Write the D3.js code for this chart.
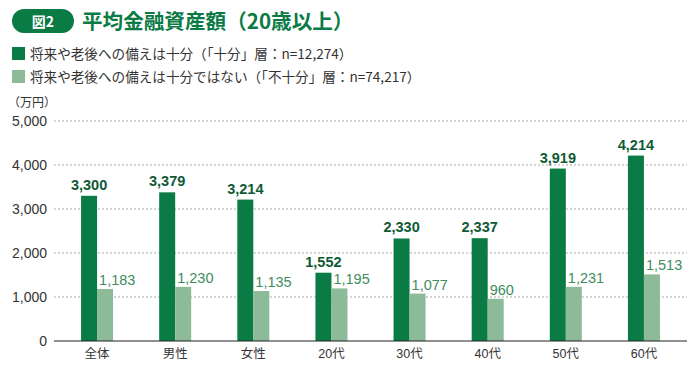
<!DOCTYPE html>
<html><head><meta charset="utf-8">
<script src="https://cdn.jsdelivr.net/npm/d3@7"></script>
<style>
html,body{margin:0;padding:0;background:#fff;}
text{font-family:"Liberation Sans","Noto Sans CJK JP",sans-serif;}
</style></head>
<body><svg id="c" width="700" height="370"></svg>
<script>
const categories = ["全体","男性","女性","20代","30代","40代","50代","60代"];
const sufficient = [3300,3379,3214,1552,2330,2337,3919,4214];
const insufficient = [1183,1230,1135,1195,1077,960,1231,1513];
const yTicks = [0,1000,2000,3000,4000,5000];
const seriesNames = ["将来や老後への備えは十分（「十分」層：n=12,274）","将来や老後への備えは十分ではない（「不十分」層：n=74,217）"];
const titleText = "平均金融資産額（20歳以上）";
const badgeText = "図2";
const unitText = "（万円）";

const dark = "#0b7b45", light = "#8dba98";
const svg = d3.select("#c");
const jp = '"Noto Sans CJK JP",sans-serif';

// header
svg.append("rect").attr("x",12).attr("y",9).attr("width",62).attr("height",24).attr("rx",12).attr("fill",dark);
svg.append("text").attr("x",43).attr("y",27).attr("text-anchor","middle").attr("fill","#fff")
  .attr("font-size",14).attr("font-weight","bold").style("font-family",jp).text(badgeText);
svg.append("text").attr("x",82).attr("y",29).attr("fill",dark).attr("font-size",20.6).attr("font-weight","bold")
  .style("font-family",jp).text(titleText);

// legend
const lg = svg.append("g");
[dark,light].forEach((c,i)=>{
  lg.append("rect").attr("x",12).attr("y",47+i*23).attr("width",13).attr("height",13).attr("fill",c);
  lg.append("text").attr("x",30).attr("y",59+i*23).attr("font-size",13.6).attr("fill","#333")
    .style("font-family",jp).text(seriesNames[i]);
});
svg.append("text").attr("x",8).attr("y",107).attr("font-size",12).attr("fill","#333").style("font-family",jp).text(unitText);

// scales
const x = d3.scaleBand().domain(categories).range([58,683]).padding(0);
const y = d3.scaleLinear().domain([0,5000]).range([341,121]);
const barW = 16;
const left = 54, right = 687;

// grid
svg.append("g").selectAll("line").data(yTicks.filter(d=>d>0)).join("line")
  .attr("x1",left).attr("x2",right).attr("y1",d=>y(d)).attr("y2",d=>y(d))
  .attr("stroke","#aaa").attr("stroke-width",1).attr("stroke-dasharray","2,2");

// y axis labels
const yAxis = d3.axisLeft(y).tickValues(yTicks).tickFormat(d3.format(",")).tickSize(0).tickPadding(0);
const ya = svg.append("g").attr("transform",`translate(47,0)`).call(yAxis);
ya.select(".domain").remove();
ya.selectAll("text").attr("font-size",14).attr("fill","#333").style("font-family",'"Liberation Sans",sans-serif');

// bars
const cx = d => x(d) + x.bandwidth()/2;
svg.append("g").selectAll("rect").data(categories).join("rect")
  .attr("x",(d)=>cx(d)-barW).attr("width",barW)
  .attr("y",(d,i)=>y(sufficient[i])).attr("height",(d,i)=>y(0)-y(sufficient[i])).attr("fill",dark);
svg.append("g").selectAll("rect").data(categories).join("rect")
  .attr("x",(d)=>cx(d)).attr("width",barW)
  .attr("y",(d,i)=>y(insufficient[i])).attr("height",(d,i)=>y(0)-y(insufficient[i])).attr("fill",light);

// value labels
const fmt = d3.format(",");
svg.append("g").selectAll("text").data(categories).join("text")
  .attr("x",d=>cx(d)-barW/2).attr("y",(d,i)=>y(sufficient[i])-6).attr("text-anchor","middle")
  .attr("font-size",14.5).attr("font-weight","bold").attr("fill","#0f5a35").text((d,i)=>fmt(sufficient[i]));
svg.append("g").selectAll("text").data(categories).join("text")
  .attr("x",d=>cx(d)+2).attr("y",(d,i)=>y(insufficient[i])-4).attr("text-anchor","start")
  .attr("font-size",14.5).attr("fill","#3f8c5e").text((d,i)=>fmt(insufficient[i]));

// x axis
svg.append("line").attr("x1",left).attr("x2",right).attr("y1",y(0)).attr("y2",y(0)).attr("stroke","#222").attr("stroke-width",1.2);
const xAxis = d3.axisBottom(x).tickSize(0).tickPadding(0);
const xa = svg.append("g").attr("transform",`translate(0,${y(0)})`).call(xAxis);
xa.select(".domain").remove();
xa.selectAll("text").attr("dy",0).attr("y",17).attr("font-size",12.5).attr("fill","#333").style("font-family",'"Liberation Sans","Noto Sans CJK JP",sans-serif');
</script></body></html>
